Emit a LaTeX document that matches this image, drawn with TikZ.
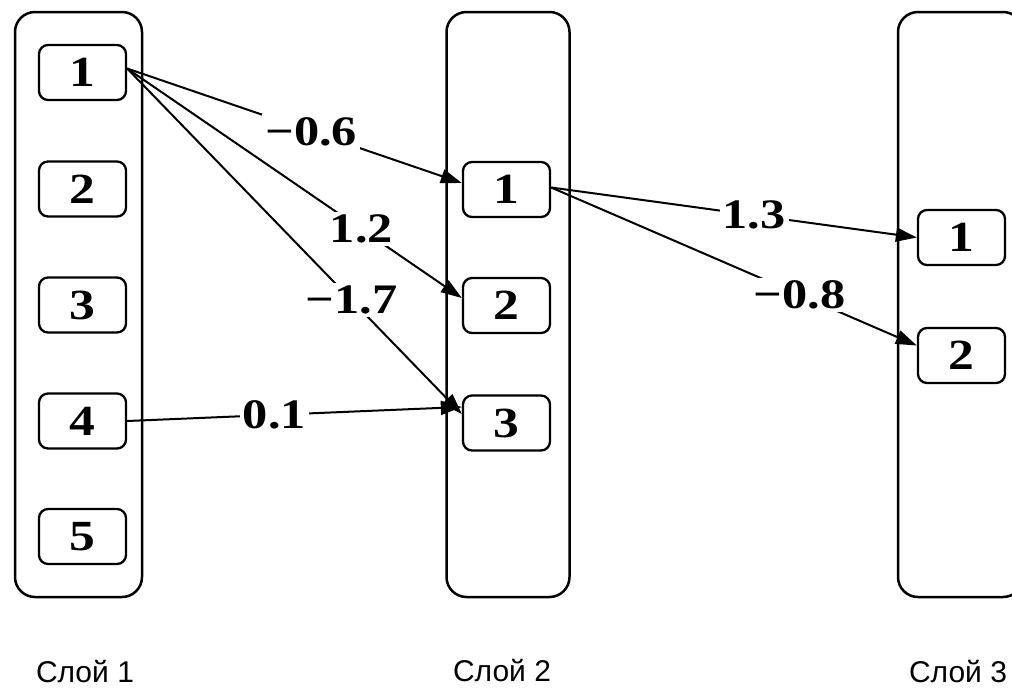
\documentclass[tikz,border=0pt]{standalone}
\usepackage{fontspec}
\setmainfont{Liberation Serif}
\setsansfont{Liberation Sans}
\usetikzlibrary{arrows.meta}
\newcommand{\wide}[1]{\scalebox{1.2}[1]{#1}}
\begin{document}
\begin{tikzpicture}[x=1pt,y=-1pt,
  layer/.style={draw, line width=2.5pt, rounded corners=20pt, inner sep=0pt},
  neuron/.style={draw, line width=2.3pt, rounded corners=9pt, minimum width=87pt, minimum height=55pt, inner sep=0pt, font=\fontsize{43}{43}\selectfont\bfseries},
  conn/.style={line width=2pt, -{Triangle[length=21pt,width=14pt]}},
  wt/.style={fill=white, inner sep=3pt, font=\fontsize{42}{42}\selectfont\bfseries},
  laycap/.style={font=\sffamily\fontsize{30}{30}\selectfont}]
\useasboundingbox (0,0) rectangle (1012,689);
\clip (0,0) rectangle (1012,689);
% layers
\node[layer, minimum width=127pt, minimum height=585pt] (L1) at (78.5,304.5) {};
\node[layer, minimum width=123pt, minimum height=585pt] (L2) at (508,304.5) {};
\node[layer, minimum width=125pt, minimum height=585pt] (L3) at (960.5,304.5) {};
% neurons
\node[neuron] (a1) at (82.5,72.5) {\wide{1}};
\node[neuron] (a2) at (82.5,189) {\wide{2}};
\node[neuron] (a3) at (82.5,305) {\wide{3}};
\node[neuron] (a4) at (82.5,421) {\wide{4}};
\node[neuron] (a5) at (82.5,536.5) {\wide{5}};
\node[neuron] (b1) at (506.5,189.5) {\wide{1}};
\node[neuron] (b2) at (506.5,305.5) {\wide{2}};
\node[neuron] (b3) at (506.5,423) {\wide{3}};
\node[neuron] (c1) at (961.5,237.5) {\wide{1}};
\node[neuron] (c2) at (961.5,355.5) {\wide{2}};
% connections
\draw[conn] ([yshift=4pt]a1.east) -- node[wt, pos=0.55] {\wide{−0.6}} ([yshift=6.5pt]b1.west);
\draw[conn] ([yshift=4pt]a1.east) -- node[wt, pos=0.70] {\wide{1.2}} ([yshift=7.5pt]b2.west);
\draw[conn] ([yshift=4pt]a1.east) -- node[wt, pos=0.67] {\wide{−1.7}} ([yshift=9pt]b3.west);
\draw[conn] (a4.east) -- node[wt, pos=0.44] {\wide{0.1}} ([yshift=16pt]b3.west);
\draw[conn] ([yshift=2pt]b1.east) -- node[wt, pos=0.555] {\wide{1.3}} (c1.west);
\draw[conn] ([yshift=2pt]b1.east) -- node[wt, pos=0.68] {\wide{−0.8}} ([yshift=10pt]c2.west);
% captions
\node[laycap] (t1) at (85,672) {Слой 1};
\node[laycap] (t2) at (502,671) {Слой 2};
\node[laycap] (t3) at (958,672) {Слой 3};
\end{tikzpicture}
\end{document}
